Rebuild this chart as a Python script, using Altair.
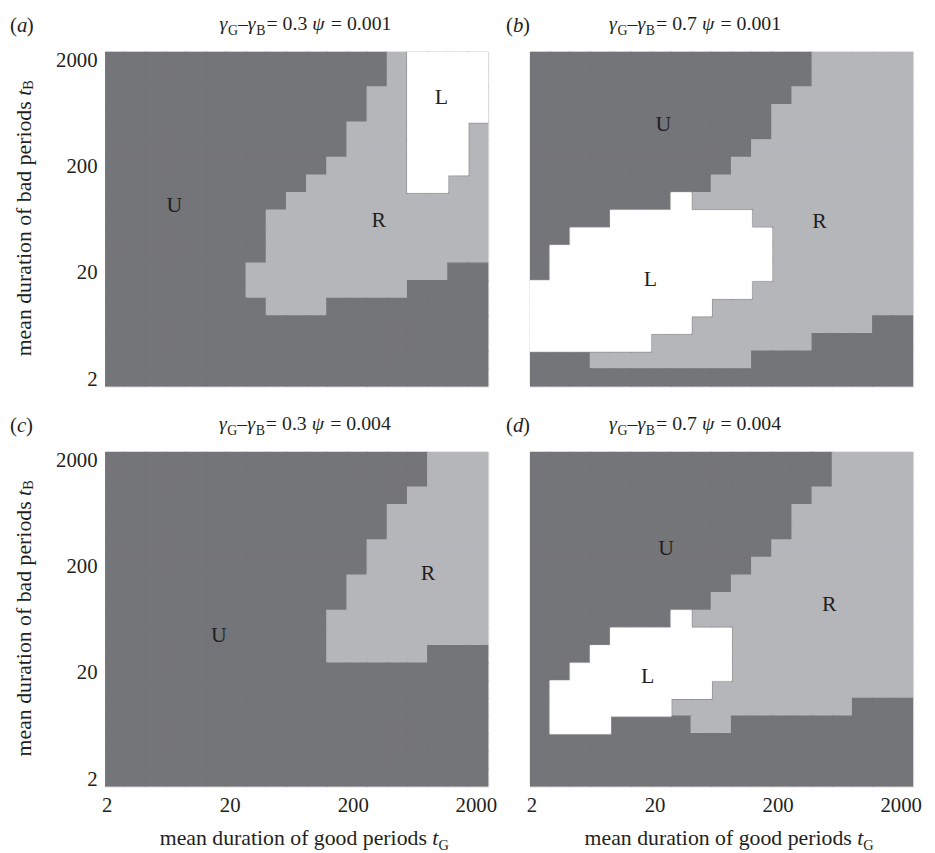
import numpy as np
import pandas as pd
import altair as alt

# ---------------- data ----------------
TICKS = [2, 20, 200, 2000]
X_DOMAIN = [1.94, 2525]      # mean duration of good periods tG (log)
Y_DOMAIN = [1.706, 2411]     # mean duration of bad periods tB (log)
NCOL = 19
NROW = 19
CODES = ["U", "R", "L"]

# rows from top (largest tB) to bottom, run-length encoded along tG
GRID_A = [
    [("U", 14), ("R", 1), ("L", 4)],
    [("U", 14), ("R", 1), ("L", 4)],
    [("U", 13), ("R", 2), ("L", 4)],
    [("U", 13), ("R", 2), ("L", 4)],
    [("U", 12), ("R", 3), ("L", 3), ("R", 1)],
    [("U", 12), ("R", 3), ("L", 3), ("R", 1)],
    [("U", 11), ("R", 4), ("L", 3), ("R", 1)],
    [("U", 10), ("R", 5), ("L", 2), ("R", 2)],
    [("U", 9), ("R", 10)],
    [("U", 8), ("R", 11)],
    [("U", 8), ("R", 11)],
    [("U", 8), ("R", 11)],
    [("U", 7), ("R", 10), ("U", 2)],
    [("U", 7), ("R", 8), ("U", 4)],
    [("U", 8), ("R", 3), ("U", 8)],
    [("U", 19)],
    [("U", 19)],
    [("U", 19)],
    [("U", 19)],
]
GRID_B = [
    [("U", 14), ("R", 5)],
    [("U", 14), ("R", 5)],
    [("U", 13), ("R", 6)],
    [("U", 12), ("R", 7)],
    [("U", 12), ("R", 7)],
    [("U", 11), ("R", 8)],
    [("U", 10), ("R", 9)],
    [("U", 9), ("R", 10)],
    [("U", 7), ("L", 1), ("R", 11)],
    [("U", 4), ("L", 7), ("R", 8)],
    [("U", 2), ("L", 10), ("R", 7)],
    [("U", 1), ("L", 11), ("R", 7)],
    [("U", 1), ("L", 11), ("R", 7)],
    [("L", 11), ("R", 8)],
    [("L", 9), ("R", 10)],
    [("L", 8), ("R", 9), ("U", 2)],
    [("L", 6), ("R", 8), ("U", 5)],
    [("U", 3), ("R", 8), ("U", 8)],
    [("U", 19)],
]
GRID_C = [
    [("U", 16), ("R", 3)],
    [("U", 16), ("R", 3)],
    [("U", 15), ("R", 4)],
    [("U", 14), ("R", 5)],
    [("U", 14), ("R", 5)],
    [("U", 13), ("R", 6)],
    [("U", 13), ("R", 6)],
    [("U", 12), ("R", 7)],
    [("U", 12), ("R", 7)],
    [("U", 11), ("R", 8)],
    [("U", 11), ("R", 8)],
    [("U", 11), ("R", 5), ("U", 3)],
    [("U", 19)],
    [("U", 19)],
    [("U", 19)],
    [("U", 19)],
    [("U", 19)],
    [("U", 19)],
    [("U", 19)],
]
GRID_D = [
    [("U", 15), ("R", 4)],
    [("U", 15), ("R", 4)],
    [("U", 14), ("R", 5)],
    [("U", 13), ("R", 6)],
    [("U", 13), ("R", 6)],
    [("U", 12), ("R", 7)],
    [("U", 11), ("R", 8)],
    [("U", 10), ("R", 9)],
    [("U", 9), ("R", 10)],
    [("U", 7), ("L", 1), ("R", 11)],
    [("U", 4), ("L", 6), ("R", 9)],
    [("U", 3), ("L", 7), ("R", 9)],
    [("U", 2), ("L", 8), ("R", 9)],
    [("U", 1), ("L", 8), ("R", 10)],
    [("U", 1), ("L", 6), ("R", 9), ("U", 3)],
    [("U", 1), ("L", 3), ("U", 4), ("R", 2), ("U", 9)],
    [("U", 19)],
    [("U", 19)],
    [("U", 19)],
]

# region labels (tG, tB)
LABELS_A = {"label": ["U", "R", "L"], "tG": [7.1, 325, 1048], "tB": [87.5, 63.4, 897]}
LABELS_B = {"label": ["U", "R", "L"], "tG": [23.6, 437, 18.5], "tB": [506, 61.2, 17.5]}
LABELS_C = {"label": ["U", "R"], "tG": [16.3, 819], "tB": [45.3, 173]}
LABELS_D = {"label": ["U", "R", "L"], "tG": [24.8, 526, 17.6], "tB": [302, 89.5, 18.5]}

PANEL_LETTERS = ["a", "b", "c", "d"]
GAP_VALUES = ["0.3", "0.7", "0.3", "0.7"]
PSI_VALUES = ["0.001", "0.001", "0.004", "0.004"]

# ---------------- style ----------------
FONT = "Liberation Serif"
INK = "#231f20"
COLORS = ["#747579", "#b5b6b9", "#ffffff"]
W, H = 387, 338

xe = np.logspace(np.log10(X_DOMAIN[0]), np.log10(X_DOMAIN[1]), NCOL + 1)
ye = np.logspace(np.log10(Y_DOMAIN[0]), np.log10(Y_DOMAIN[1]), NROW + 1)


def cells_frame(grid):
    recs = []
    for r, runs in enumerate(grid):
        codes = "".join(code * n for code, n in runs)
        assert len(codes) == NCOL, (r, len(codes))
        for c, code in enumerate(codes):
            recs.append({"x0": xe[c], "x1": xe[c + 1],
                         "y0": ye[NROW - 1 - r], "y1": ye[NROW - r],
                         "code": code})
    return pd.DataFrame(recs)


ONE = pd.DataFrame({"k": [0]})


def seg(text, x, y, size=20, style="normal", angle=0, align="left", baseline="alphabetic"):
    return alt.Chart(ONE).mark_text(
        text=text, font=FONT, fontSize=size, fontStyle=style, angle=angle,
        align=align, baseline=baseline, color=INK
    ).encode(x=alt.value(x), y=alt.value(y))


def panel(grid, labels, idx, show_x, show_y, title_x):
    df = cells_frame(grid)
    xs = alt.Scale(type="log", domain=X_DOMAIN, nice=False)
    ys = alt.Scale(type="log", domain=Y_DOMAIN, nice=False)
    ax = dict(values=TICKS, format="d", labelFont=FONT, labelFontSize=21,
              labelColor=INK, ticks=False, domain=False, grid=False,
              labelPadding=8, labelFlush=False, title=None)
    x_axis = alt.Axis(**ax) if show_x else None
    y_axis = alt.Axis(**ax) if show_y else None
    cscale = alt.Scale(domain=CODES, range=COLORS)

    X = lambda f: alt.X(f, scale=xs, axis=x_axis)
    Y = lambda f: alt.Y(f, scale=ys, axis=y_axis)

    base = alt.Chart(df)
    cells = base.mark_rect(clip=True, strokeWidth=1.4).encode(
        x=X("x0:Q"), x2="x1:Q", y=Y("y0:Q"), y2="y1:Q",
        color=alt.Color("code:N", scale=cscale, legend=None),
        stroke=alt.Stroke("code:N", scale=cscale, legend=None),
    )
    lenc = dict(x=X("x0:Q"), x2="x1:Q", y=Y("y0:Q"), y2="y1:Q")
    lframe = base.transform_filter(alt.datum.code == "L")
    l_outline = lframe.mark_rect(clip=True, fill="white", stroke="#8c8c8c", strokeWidth=2.4).encode(**lenc)
    l_fill = lframe.mark_rect(clip=True, fill="white", stroke="white", strokeWidth=1).encode(**lenc)

    lab = alt.Chart(pd.DataFrame(labels)).mark_text(
        font=FONT, fontSize=22, color=INK, baseline="middle").encode(
        x=X("tG:Q"), y=Y("tB:Q"), text="label:N",
    )

    layers = [cells, l_outline, l_fill, lab]

    # panel letter  (a)
    lx = -96 if idx % 2 == 0 else -24
    ly = -20
    layers += [seg("(", lx, ly, 21), seg(PANEL_LETTERS[idx], lx + 7, ly, 21, "italic"),
               seg(")", lx + 7 + (10 if PANEL_LETTERS[idx] != "c" else 9.3), ly, 21)]

    # title  γG–γB = v ψ = p
    ty = -22
    t = title_x
    layers += [seg("γ", t, ty, 20, "italic"),
               seg("G", t + 8.5, ty + 5, 14),
               seg("–γ", t + 18.6, ty, 20, "italic"),
               seg("B", t + 37.1, ty + 5, 14),
               seg("= " + GAP_VALUES[idx], t + 47.4, ty, 20),
               seg("ψ", t + 93.7, ty, 20, "italic"),
               seg("= " + PSI_VALUES[idx], t + 112.4, ty, 20)]

    if show_x:
        bx = 325
        by = H + 59
        layers += [seg("mean duration of good periods", bx, by, 22, align="right"),
                   seg("t", bx + 5.5, by, 22, "italic"),
                   seg("G", bx + 11.6, by + 5, 14.5)]
    if show_y:
        yx = -82
        yend = 50
        layers += [seg("mean duration of bad periods", yx, yend, 22, angle=270,
                       align="right", baseline="middle"),
                   seg("t", yx, yend - 5.5, 22, "italic", angle=270, baseline="middle"),
                   seg("B", yx + 5, yend - 11.6, 14.5, angle=270, baseline="middle")]

    return alt.layer(*layers).properties(width=W, height=H)


pa = panel(GRID_A, LABELS_A, 0, False, True, 115.6)
pb = panel(GRID_B, LABELS_B, 1, False, False, 80)
pc = panel(GRID_C, LABELS_C, 2, True, True, 115)
pd_ = panel(GRID_D, LABELS_D, 3, True, False, 80)

top = alt.hconcat(pa, pb, spacing=42, bounds="flush")
bottom = alt.hconcat(pc, pd_, spacing=42, bounds="flush")
chart = alt.vconcat(top, bottom, spacing=23).properties(
    padding={"left": 1, "top": 1, "right": 5, "bottom": 5}
).configure_view(stroke="#c8c8c8", strokeWidth=1).configure(background="white")

chart.save("out.html", embed_options={"renderer": "svg", "actions": False})
